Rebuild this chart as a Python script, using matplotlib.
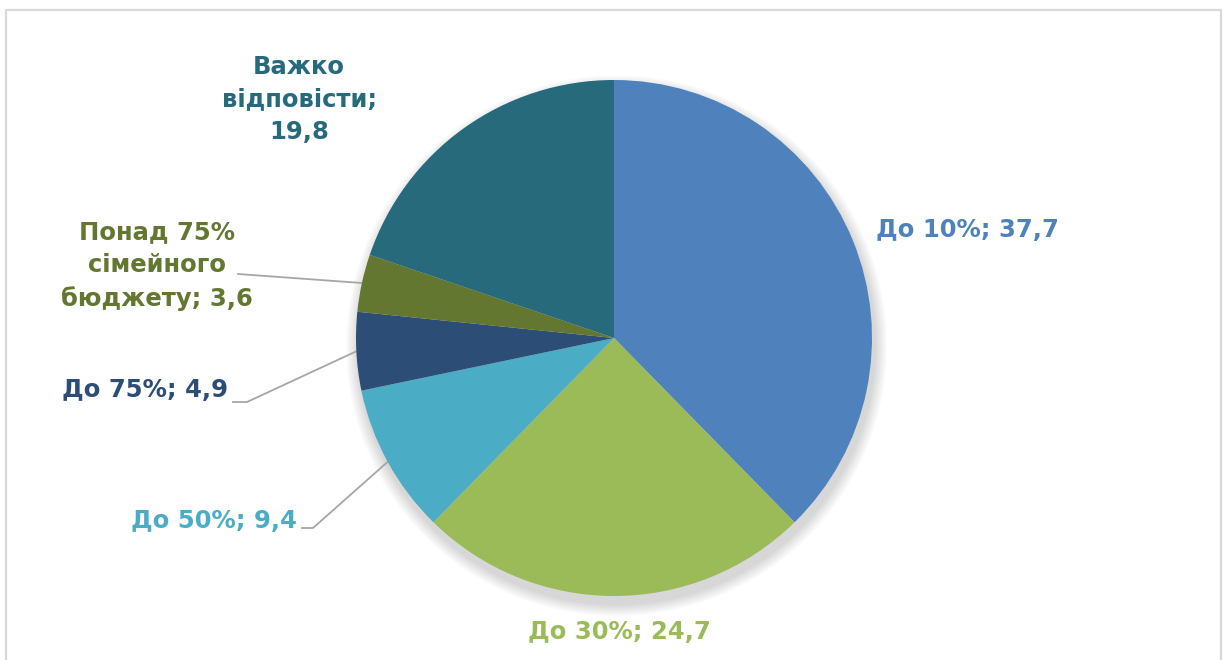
import matplotlib
matplotlib.use("Agg")
import matplotlib.pyplot as plt
from matplotlib.patches import Rectangle, Circle

# Share of the family budget spent (%, survey answers)
labels = ["До 10%", "До 30%", "До 50%", "До 75%",
          "Понад 75%\nсімейного\nбюджету", "Важко\nвідповісти"]
values = [37.7, 24.7, 9.4, 4.9, 3.6, 19.8]
value_text = ["37,7", "24,7", "9,4", "4,9", "3,6", "19,8"]
seps = [" ", " ", " ", " ", " ", "\n"]
colors = ["#4F81BD", "#9BBB59", "#4BACC6", "#2C4D75", "#637731", "#276A7C"]

W, H = 1224, 660
fig = plt.figure(figsize=(W / 100, H / 100), dpi=100)
plt.rcParams['font.family'] = ['DejaVu Sans']

# light frame around the chart area
fig.patches.append(Rectangle((6 / W, -0.05), (1221 - 6) / W, 1.05 - 10 / H,
                             transform=fig.transFigure, fill=False,
                             edgecolor="#D9D9D9", linewidth=1.6))

cx, cy, r = 614, 338, 258
ax = fig.add_axes([(cx - r) / W, (H - cy - r) / H, 2 * r / W, 2 * r / H])

# soft drop shadow under the pie
for i in range(8):
    ax.add_patch(Circle((0.01, -0.03), 1.0 + 0.006 * (8 - i),
                        color="black", alpha=0.02, lw=0, zorder=0,
                        clip_on=False))

wedges, _ = ax.pie(values, colors=colors, startangle=90, counterclock=False,
                   radius=1, wedgeprops=dict(linewidth=0))
for w in wedges:
    w.set_zorder(2)

ax.set_xlim(-1, 1)
ax.set_ylim(-1, 1)
ax.set_aspect("equal")
ax.axis("off")

# label placements in pie units (radius = 1)
label_pos = [(1.016, 0.42, "left"), (0.02, -1.14, "center"),
             (-1.23, -0.71, "right"), (-1.495, -0.20, "right"),
             (-1.77, 0.28, "center"), (-1.22, 0.925, "center")]
for lab, sep, val, col, (x, y, ha) in zip(labels, seps, value_text, colors, label_pos):
    ax.text(x, y, f"{lab};{sep}{val}", color=col, fontsize=17.5, fontweight="bold",
            ha=ha, va="center", multialignment="center", linespacing=1.45,
            clip_on=False)

# leader lines for the small slices
def px(x, y):
    return (x - cx) / r, (cy - y) / r

leaders = [
    [(238, 274), (362, 283)],
    [(233, 402), (247, 402), (357, 351)],
    [(302, 528), (313, 528), (392, 458)],
]
for pts in leaders:
    xs, ys = zip(*[px(*p) for p in pts])
    ax.plot(xs, ys, color="#A6A6A6", lw=1.3, clip_on=False, zorder=1)

fig.savefig("out.png", dpi=100)
